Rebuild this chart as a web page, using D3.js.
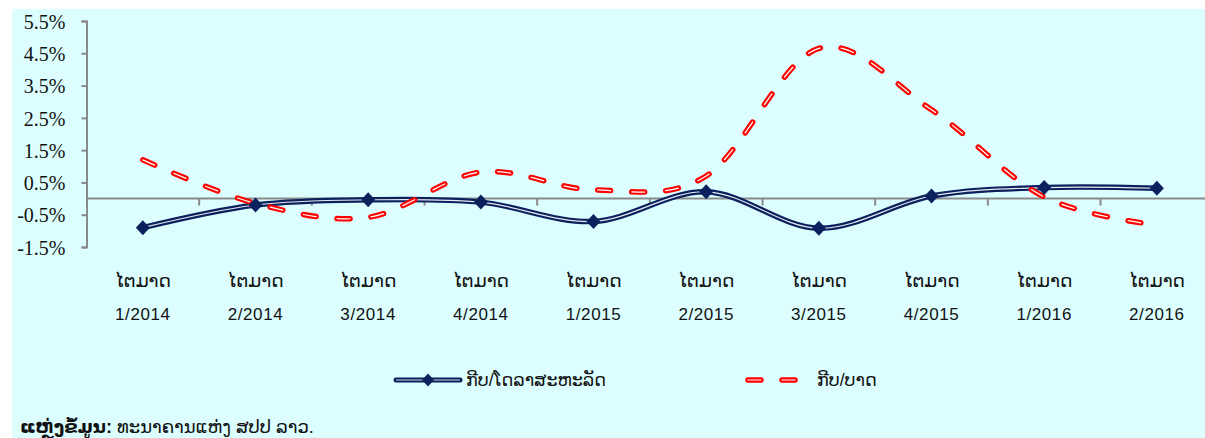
<!DOCTYPE html>
<html><head><meta charset="utf-8">
<script src="https://cdn.jsdelivr.net/npm/d3@7"></script>
<style>
html,body{margin:0;padding:0;background:#fff;}
svg{display:block;}
</style></head>
<body>
<svg id="chart" width="1205" height="438"></svg>
<script>
// ---- data ----
const categories = ["1/2014","2/2014","3/2014","4/2014","1/2015","2/2015","3/2015","4/2015","1/2016","2/2016"];
const quarterWord = "ໄຕມາດ";
const seriesNames = ["ກີບ/ໂດລາສະຫະລັດ", "ກີບ/ບາດ"];
const usdValues = [-0.90, -0.20, -0.04, -0.11, -0.71, 0.21, -0.92, 0.08, 0.34, 0.32];
const thbValues = [1.20, -0.15, -0.58, 0.82, 0.27, 0.70, 4.65, 2.75, 0.05, -0.82];
const yTicks = [-1.5, -0.5, 0.5, 1.5, 2.5, 3.5, 4.5, 5.5];
const sourceBold = "ແຫຼ່ງຂໍ້ມູນ:";
const sourceText = " ທະນາຄານແຫ່ງ ສປປ ລາວ.";

// ---- layout ----
const svg = d3.select("#chart");
const bg = "#dcfefe";
const navy = "#0b215e";
const red = "#ff0000";
const axisGray = "#8a8a8a";
const plot = {left: 86.5, right: 1213.2, top: 21, bottom: 247};

const defs = svg.append("defs");
const f = defs.append("filter").attr("id","shadow").attr("x","-5%").attr("y","-200%").attr("width","110%").attr("height","500%");
f.append("feDropShadow").attr("dx",1.5).attr("dy",2.5).attr("stdDeviation",1.5).attr("flood-color","#6a8080").attr("flood-opacity",0.7);

svg.append("rect").attr("x",12).attr("y",9).attr("width",1205-12).attr("height",438-9).attr("fill",bg);

const x = d3.scaleBand().domain(categories).range([plot.left, plot.right]).paddingInner(0).paddingOuter(0);
const y = d3.scaleLinear().domain([-1.5, 5.5]).range([plot.bottom, plot.top]);
const cx = c => x(c) + x.bandwidth()/2;

// plot-area bottom border with shadow
svg.append("line").attr("x1",plot.left).attr("x2",1210).attr("y1",plot.bottom).attr("y2",plot.bottom)
  .attr("stroke",axisGray).attr("stroke-width",2).attr("filter","url(#shadow)");

// y axis
const yAxis = d3.axisLeft(y).tickValues(yTicks).tickSize(5).tickPadding(16)
  .tickFormat(d => d.toFixed(1) + "%");
const gy = svg.append("g").attr("transform",`translate(${plot.left},0)`).call(yAxis);
gy.select(".domain").attr("stroke",axisGray).attr("stroke-width",2);
gy.selectAll(".tick line").attr("stroke",axisGray).attr("stroke-width",2);
gy.selectAll(".tick text").attr("font-family","'Liberation Serif','Times New Roman',serif")
  .attr("font-size",20).attr("fill","#111").attr("dy","0.36em");

// category axis at zero (ticks at boundaries)
const y0 = y(0);
svg.append("line").attr("x1",plot.left).attr("x2",1210).attr("y1",y0).attr("y2",y0)
  .attr("stroke",axisGray).attr("stroke-width",2);
svg.append("g").selectAll("line").data(categories.slice(1)).join("line")
  .attr("x1",d=>x(d)).attr("x2",d=>x(d)).attr("y1",y0).attr("y2",y0+7)
  .attr("stroke",axisGray).attr("stroke-width",2);

// category labels
const labFont = "'Liberation Sans','DejaVu Sans',Arial,sans-serif";
const gl = svg.append("g");
gl.selectAll("text.q").data(categories).join("text").attr("class","q")
  .attr("x",d=>cx(d)).attr("y",287).attr("text-anchor","middle")
  .attr("font-family",labFont).attr("font-size",18.5).attr("fill","#111").text(quarterWord);
gl.selectAll("text.n").data(categories).join("text").attr("class","n")
  .attr("x",d=>cx(d)).attr("y",320).attr("text-anchor","middle")
  .attr("font-family",labFont).attr("font-size",17).attr("letter-spacing","0.6px").attr("fill","#111").text(d=>d);

// lines
const line = d3.line().x(d=>cx(d.c)).y(d=>y(d.v)).curve(d3.curveCardinal.tension(0));
const usd = categories.map((c,i)=>({c, v: usdValues[i]}));
const thb = categories.map((c,i)=>({c, v: thbValues[i]}));

const gLines = svg.append("g");
gLines.append("path").datum(usd).attr("d",line).attr("fill","none").attr("stroke",navy).attr("stroke-width",5.5);
gLines.append("path").datum(usd).attr("d",line).attr("fill","none").attr("stroke","#ffffff").attr("stroke-width",1.2).attr("opacity",0.9);

gLines.append("path").datum(thb).attr("d",line).attr("fill","none").attr("stroke",red).attr("stroke-width",5.5)
  .attr("stroke-dasharray","13,21").attr("stroke-linecap","round");
gLines.append("path").datum(thb).attr("d",line).attr("fill","none").attr("stroke","#ffffff").attr("stroke-width",1.2)
  .attr("stroke-dasharray","13,21").attr("stroke-linecap","round");

// markers (diamonds)
const diamond = (w,h) => `M0,${-h/2}L${w/2},0L0,${h/2}L${-w/2},0Z`;
svg.append("g").selectAll("path").data(usd).join("path")
  .attr("transform",d=>`translate(${cx(d.c)},${y(d.v)})`)
  .attr("d",diamond(14,15)).attr("fill",navy);

// legend
const lg = svg.append("g");
const ly = 380;
lg.append("line").attr("x1",396).attr("x2",460).attr("y1",ly).attr("y2",ly).attr("stroke",navy).attr("stroke-width",5).attr("stroke-linecap","round");
lg.append("line").attr("x1",396).attr("x2",460).attr("y1",ly).attr("y2",ly).attr("stroke","#fff").attr("stroke-width",1).attr("opacity",0.8);
lg.append("path").attr("transform",`translate(428,${ly})`).attr("d",diamond(12,13)).attr("fill",navy);
lg.append("text").attr("x",466).attr("y",ly+6).attr("font-family",labFont).attr("font-size",17.5).attr("fill","#111").text(seriesNames[0]);

lg.append("line").attr("x1",748).attr("x2",800).attr("y1",ly).attr("y2",ly).attr("stroke",red).attr("stroke-width",5.5)
  .attr("stroke-dasharray","13,21").attr("stroke-linecap","round");
lg.append("line").attr("x1",748).attr("x2",800).attr("y1",ly).attr("y2",ly).attr("stroke","#fff").attr("stroke-width",1.2)
  .attr("stroke-dasharray","13,21").attr("stroke-linecap","round");
lg.append("text").attr("x",817).attr("y",ly+6).attr("font-family",labFont).attr("font-size",17.5).attr("fill","#111").text(seriesNames[1]);

// source
const st = svg.append("text").attr("x",20).attr("y",433).attr("font-family",labFont).attr("font-size",18).attr("fill","#111");
st.append("tspan").attr("font-weight","bold").text(sourceBold);
st.append("tspan").text(sourceText);
</script>
</body></html>
